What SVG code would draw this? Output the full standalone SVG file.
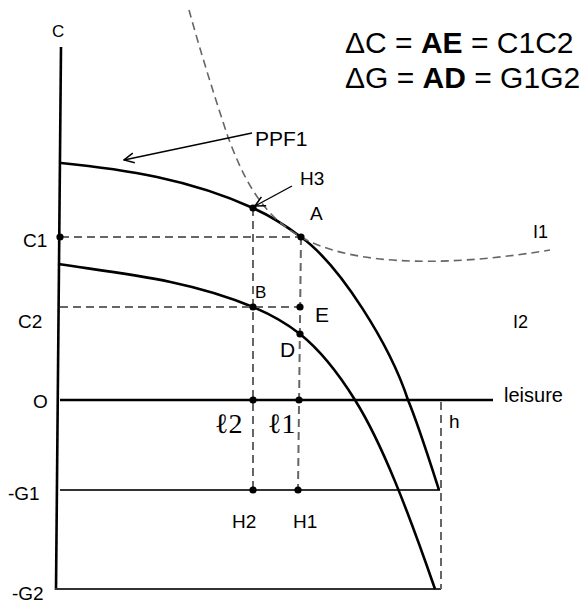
<svg xmlns="http://www.w3.org/2000/svg" width="585" height="604" viewBox="0 0 585 604">
<style>
.ax{fill:none;stroke:#000;stroke-width:2.6;stroke-linecap:butt}
.thin{fill:none;stroke:#333;stroke-width:2}
.cv{fill:none;stroke:#000;stroke-width:2.6}
.ds{fill:none;stroke:#666;stroke-width:2;stroke-dasharray:8,5}
.ic{fill:none;stroke:#666;stroke-width:1.6;stroke-dasharray:8,5}
.ar{fill:none;stroke:#000;stroke-width:1.4}
.dot{fill:#000}
text{font-family:"Liberation Sans",Arial,sans-serif;fill:#000}
.lb{font-size:19px}
.big{font-size:21px}
.eq{font-size:30px}
.ell{font-family:"Liberation Serif","DejaVu Serif",serif;font-size:28px}
</style>
<defs>
<marker id="vh" viewBox="0 0 12 12" refX="11" refY="6" markerWidth="12" markerHeight="12" markerUnits="userSpaceOnUse" orient="auto">
<path d="M1,1 L11,6 L1,11" fill="none" stroke="#000" stroke-width="1.5"/>
</marker>
</defs>
<g id="axes">
<path class="ax" d="M61,47 L56,590"/>
<path class="ax" d="M60,400 L493,400"/>
<path class="thin" d="M60,490 L440,490"/>
<path class="thin" d="M55,589 L441,589"/>
<path class="ds" d="M441,402 L441,589"/>
</g>
<g id="curves">
<path id="ppf1" class="cv" d="M61,163 C125,169.4 189,179 253,208 C269,215.2 285,225 301,237 C340,265 390,345 408,400 C418,424 430,462 439,490"/>
<path id="ppf2" class="cv" d="M58,264 C123,273.8 188,279.7 253,307 C269,313.7 284,321.5 300,334 C318,348.4 337,371 355,400 C382,443 408,511 435,589"/>
<path id="I1" class="ic" d="M189,10 C200,50 214,95 228,137 C243,177 261,215 301,237 C345,262 430,270 550,250"/>
</g>
<g id="connectors">
<path class="ds" d="M61,237 L301,237"/>
<path class="ds" d="M60,307 L300,307"/>
<path class="ds" d="M253,208 L253,490"/>
<path class="ds" d="M301,237 L298,490"/>
<path class="ar" d="M252,133 L124,160" marker-end="url(#vh)"/>
<path class="ar" d="M292,186 L255,206" marker-end="url(#vh)"/>
</g>
<g id="points">
<circle id="pC1" class="dot" cx="60" cy="237" r="3.6"/>
<circle id="pA" class="dot" cx="301" cy="237" r="3.6"/>
<circle id="pH3" class="dot" cx="253" cy="208" r="3.6"/>
<circle id="pB" class="dot" cx="253" cy="307" r="3.6"/>
<circle id="pE" class="dot" cx="300" cy="307" r="3.6"/>
<circle id="pD" class="dot" cx="300" cy="334" r="3.6"/>
<circle id="pl2" class="dot" cx="253" cy="400" r="3.6"/>
<circle id="pl1" class="dot" cx="299" cy="400" r="3.6"/>
<circle id="pH2" class="dot" cx="253" cy="490" r="3.6"/>
<circle id="pH1" class="dot" cx="298" cy="490" r="3.6"/>
</g>
<g id="labels">
<text x="52" y="37" font-size="17">C</text>
<text x="255" y="146" class="big">PPF1</text>
<text x="300" y="185" class="lb">H3</text>
<text x="310" y="220" class="lb">A</text>
<text x="533" y="238" font-size="18">I1</text>
<text x="23" y="247" class="lb">C1</text>
<text x="255" y="298" font-size="17">B</text>
<text x="315" y="322" class="big">E</text>
<text x="18" y="328" class="lb">C2</text>
<text x="513" y="328" font-size="18">I2</text>
<text x="280" y="357" class="big">D</text>
<text x="33" y="408" class="lb">O</text>
<text x="504" y="402" font-size="20">leisure</text>
<text x="449" y="428" class="lb">h</text>
<text x="215" y="433" class="ell">ℓ2</text>
<text x="268" y="433" class="ell">ℓ1</text>
<text x="8" y="500" class="lb">-G1</text>
<text x="232" y="528" class="lb">H2</text>
<text x="293" y="528" class="lb">H1</text>
<text x="12" y="600" class="lb">-G2</text>
<text x="345" y="53" class="eq">ΔC = <tspan font-weight="bold">AE</tspan> = C1C2</text>
<text x="345" y="88" class="eq">ΔG = <tspan font-weight="bold">AD</tspan> = G1G2</text>
</g>
</svg>
